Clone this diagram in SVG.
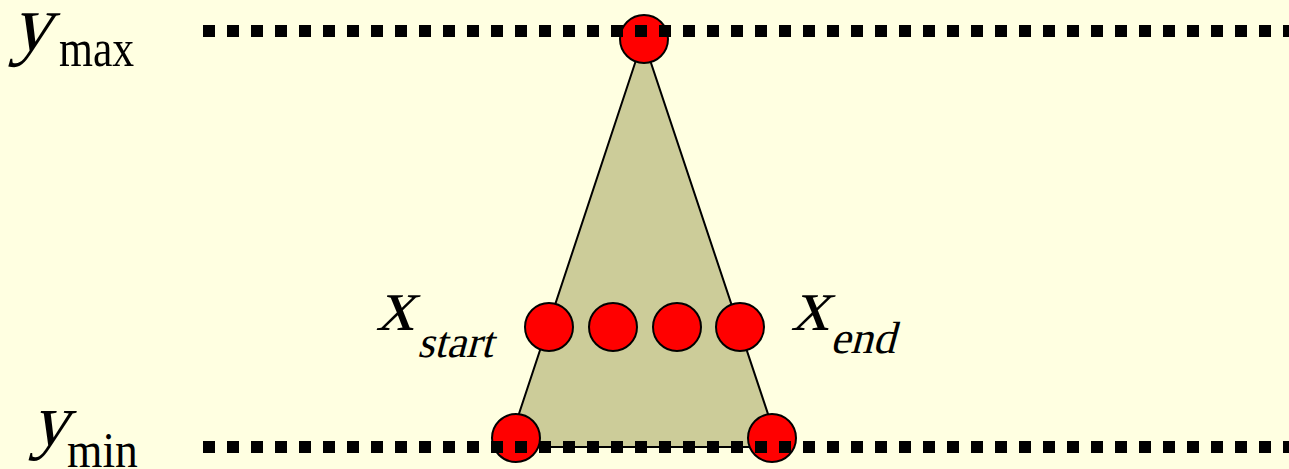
<svg xmlns="http://www.w3.org/2000/svg" width="1289" height="469" viewBox="0 0 1289 469">
<style>
.pt{fill:#FF0000;stroke:#000;stroke-width:2}
.dash{stroke:#000;stroke-width:12;stroke-dasharray:12 12;fill:none}
.t{font-family:"Liberation Serif","Times New Roman",serif;font-style:normal;fill:#000}
</style>
<rect x="0" y="0" width="1289" height="469" fill="#FFFFE1"/>
<g id="triangle">
<polygon points="643,39 508,447 779,447" fill="#CCCC99" stroke="#000" stroke-width="2"/>
</g>
<g id="points">
<circle class="pt" cx="644" cy="39" r="24"/>
<circle class="pt" cx="549" cy="327" r="24"/>
<circle class="pt" cx="613" cy="327" r="24"/>
<circle class="pt" cx="677" cy="327" r="24"/>
<circle class="pt" cx="740" cy="327" r="24"/>
<circle class="pt" cx="516" cy="438" r="24"/>
<circle class="pt" cx="772" cy="438" r="24"/>
</g>
<g id="lines">
<line class="dash" x1="203" y1="31" x2="1289" y2="31"/>
<line class="dash" x1="203" y1="447" x2="1289" y2="447"/>
</g>
<g id="label-ymax">
<text class="t" font-size="80" transform="translate(11,50) skewX(-15)">y</text>
<text class="t" font-size="46" transform="translate(59,66) scale(0.95,1.15)">max</text>
</g>
<g id="label-ymin">
<text class="t" font-size="74" transform="translate(31,445) skewX(-15)">y</text>
<text class="t" font-size="46" transform="translate(67,467) scale(0.99,1.08)">min</text>
</g>
<g id="label-xstart">
<text class="t" font-size="76" transform="translate(376,330) skewX(-15)">x</text>
<text class="t" font-size="44" transform="translate(417,357) skewX(-15)">start</text>
</g>
<g id="label-xend">
<text class="t" font-size="76" transform="translate(791,330) skewX(-15)">x</text>
<text class="t" font-size="45" transform="translate(830,353) skewX(-15)">end</text>
</g>
</svg>
